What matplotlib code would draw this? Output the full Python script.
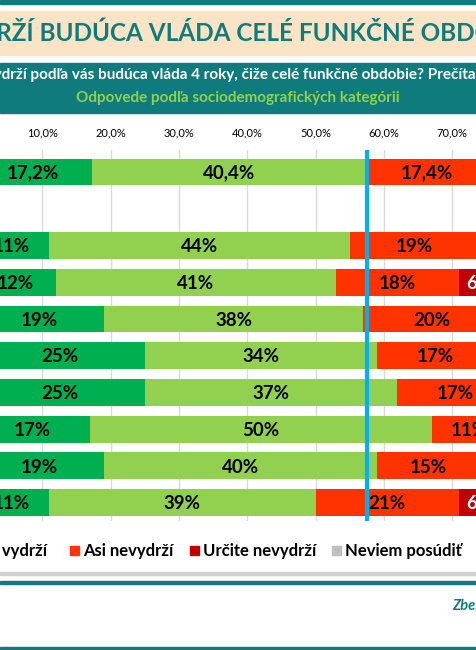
import numpy as np
import matplotlib.pyplot as plt
from matplotlib.patches import Rectangle

# ======================================================
# DATA
# ======================================================

series = ["Určite vydrží", "Asi vydrží", "Asi nevydrží", "Určite nevydrží", "Neviem posúdiť"]
colors = ["#00B050", "#92D050", "#FF3300", "#C00000", "#BFBFBF"]

# row 1 is an empty spacer row
urcite_vydrzi = [17.2, None, 11, 12, 19, 25, 25, 17, 19, 11]
asi_vydrzi = [40.4, None, 44, 41, 38, 34, 37, 50, 40, 39]
asi_nevydrzi = [17.4, None, 19, 18, 20, 17, 17, 11, 15, 21]
urcite_nevydrzi = [9.6, None, 8, 6, 7, 8, 7, 6, 8, 6]
neviem = [15.4, None, 18, 23, 16, 16, 14, 16, 18, 23]

ref_line = 57.6

W, H = 476, 650
TEAL = "#0F7B7C"
FONT = ["Lato", "DejaVu Sans"]

fig = plt.figure(figsize=(W / 100, H / 100), dpi=100)
fig.patch.set_facecolor("white")


def fx(px):
    return px / W


def fy(py):
    return 1 - py / H


# ======================================================
# HEADER
# ======================================================

fig.patches.append(Rectangle((0, fy(4)), 1, 4 / H, transform=fig.transFigure, color=TEAL))
fig.patches.append(Rectangle((0, fy(55)), 1, 44 / H, transform=fig.transFigure, color="#FBE3C5"))
fig.text(fx(-55), fy(33), "VYDRŽÍ BUDÚCA VLÁDA CELÉ FUNKČNÉ OBDOBIE?", color=TEAL,
         fontsize=17.5, fontweight="bold", family=FONT, va="center", ha="left")

fig.patches.append(Rectangle((0, fy(113)), 1, 50 / H, transform=fig.transFigure, color=TEAL))
fig.text(fx(-17), fy(75), "Vydrží podľa vás budúca vláda 4 roky, čiže celé funkčné obdobie? Prečítam",
         color="white", fontsize=11, fontweight="bold", family=FONT, va="center", ha="left")
fig.text(fx(238), fy(98), "Odpovede podľa sociodemografických kategórii",
         color="#92D050", fontsize=11, fontweight="bold", family=FONT, va="center", ha="center")

# ======================================================
# CHART
# ======================================================

ax = fig.add_axes([0, fy(521), 1, (521 - 150) / H])
ax.set_xlim(3.8, 73.5)
ax.set_ylim(9.5, -0.6)

data = [urcite_vydrzi, asi_vydrzi, asi_nevydrzi, urcite_nevydrzi, neviem]
for i in range(len(urcite_vydrzi)):
    if urcite_vydrzi[i] is None:
        continue
    left = 0
    for s in range(len(series)):
        v = data[s][i]
        ax.barh(i, v, left=left, height=0.73, color=colors[s], zorder=2)
        lbl = f"{v:.1f}%".replace(".", ",") if i == 0 else f"{v:.0f}%"
        ax.text(left + v / 2, i + 0.03, lbl, ha="center", va="center",
                fontsize=13.5, fontweight="bold", family=FONT,
                color="white" if s == 3 else "black", zorder=3, clip_on=True)
        left += v

ax.axvline(ref_line, color="#00B0F0", lw=3, zorder=4)

ax.set_xticks(np.arange(10, 80, 10))
ax.set_xticklabels([f"{t},0%" for t in range(10, 80, 10)], fontsize=8, family=FONT)
ax.xaxis.tick_top()
ax.tick_params(axis="x", length=0, pad=8)
ax.set_yticks([])
ax.grid(axis="x", color="#D9D9D9", lw=1, zorder=0)
for sp in ax.spines.values():
    sp.set_visible(False)

# ======================================================
# LEGEND
# ======================================================

fig.text(fx(47), fy(551), "Asi vydrží", fontsize=12, fontweight="bold", family=FONT,
         va="center", ha="right")
leg_x = [70, 190, 332]
for x, name, c in zip(leg_x, series[2:], colors[2:]):
    fig.patches.append(Rectangle((fx(x), fy(555)), 9 / W, 9 / H, transform=fig.transFigure, color=c))
    fig.text(fx(x + 13), fy(551), name, fontsize=12, fontweight="bold", family=FONT,
             va="center", ha="left")

# ======================================================
# FOOTER
# ======================================================

fig.patches.append(Rectangle((0, fy(575)), 1, 3 / H, transform=fig.transFigure, color="#D0D0D0"))
fig.patches.append(Rectangle((0, fy(584)), 1, 3 / H, transform=fig.transFigure, color=TEAL))
fig.text(fx(452), fy(606), "Zber dát", color=TEAL, fontsize=10.5, fontweight="bold",
         style="italic", family=FONT, va="center", ha="left")
fig.patches.append(Rectangle((0, fy(650)), 1, 3 / H, transform=fig.transFigure, color=TEAL))

plt.savefig("out.png", dpi=100)
plt.close()
